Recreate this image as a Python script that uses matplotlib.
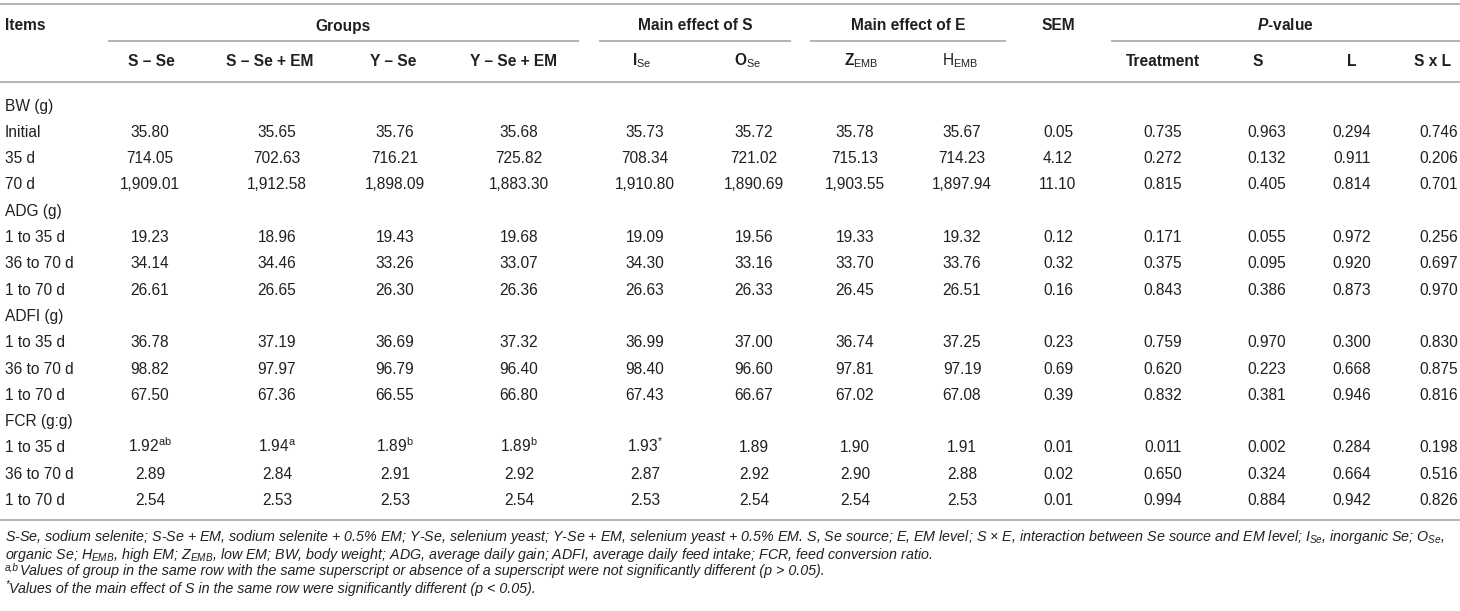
import matplotlib
matplotlib.use("Agg")
import matplotlib.pyplot as plt

plt.rcParams['font.family'] = ['Liberation Sans', 'DejaVu Sans']
plt.rcParams['mathtext.fontset'] = 'custom'
plt.rcParams['mathtext.rm'] = 'Liberation Sans'
plt.rcParams['mathtext.it'] = 'Liberation Sans:italic'
plt.rcParams['mathtext.bf'] = 'Liberation Sans:bold'
plt.rcParams['mathtext.bfit'] = 'Liberation Sans:italic:bold'
plt.rcParams['mathtext.sf'] = 'Liberation Sans'

# ---------------- data ----------------
sections = ["BW (g)", "ADG (g)", "ADFI (g)", "FCR (g:g)"]
periods = [["Initial", "35 d", "70 d"],
           ["1 to 35 d", "36 to 70 d", "1 to 70 d"],
           ["1 to 35 d", "36 to 70 d", "1 to 70 d"],
           ["1 to 35 d", "36 to 70 d", "1 to 70 d"]]

s_se    = [35.80, 714.05, 1909.01, 19.23, 34.14, 26.61, 36.78, 98.82, 67.50, 1.92, 2.89, 2.54]
s_se_em = [35.65, 702.63, 1912.58, 18.96, 34.46, 26.65, 37.19, 97.97, 67.36, 1.94, 2.84, 2.53]
y_se    = [35.76, 716.21, 1898.09, 19.43, 33.26, 26.30, 36.69, 96.79, 66.55, 1.89, 2.91, 2.53]
y_se_em = [35.68, 725.82, 1883.30, 19.68, 33.07, 26.36, 37.32, 96.40, 66.80, 1.89, 2.92, 2.54]
i_se    = [35.73, 708.34, 1910.80, 19.09, 34.30, 26.63, 36.99, 98.40, 67.43, 1.93, 2.87, 2.53]
o_se    = [35.72, 721.02, 1890.69, 19.56, 33.16, 26.33, 37.00, 96.60, 66.67, 1.89, 2.92, 2.54]
z_emb   = [35.78, 715.13, 1903.55, 19.33, 33.70, 26.45, 36.74, 97.81, 67.02, 1.90, 2.90, 2.54]
h_emb   = [35.67, 714.23, 1897.94, 19.32, 33.76, 26.51, 37.25, 97.19, 67.08, 1.91, 2.88, 2.53]
sem     = [0.05, 4.12, 11.10, 0.12, 0.32, 0.16, 0.23, 0.69, 0.39, 0.01, 0.02, 0.01]
p_treat = [0.735, 0.272, 0.815, 0.171, 0.375, 0.843, 0.759, 0.620, 0.832, 0.011, 0.650, 0.994]
p_s     = [0.963, 0.132, 0.405, 0.055, 0.095, 0.386, 0.970, 0.223, 0.381, 0.002, 0.324, 0.884]
p_l     = [0.294, 0.911, 0.814, 0.972, 0.920, 0.873, 0.300, 0.668, 0.946, 0.284, 0.664, 0.942]
p_sxl   = [0.746, 0.206, 0.701, 0.256, 0.697, 0.970, 0.830, 0.875, 0.816, 0.198, 0.516, 0.826]

# superscripts: (value row index, column index) -> mark
superscripts = {(9, 0): "ab", (9, 1): "a", (9, 2): "b", (9, 3): "b", (9, 4): "*"}

col_labels = [r"S – Se", r"S – Se + EM", r"Y – Se", r"Y – Se + EM",
              r"$\mathbf{I}_{\mathrm{Se}}$", r"$\mathbf{O}_{\mathrm{Se}}$",
              r"$\mathbf{Z}_{\mathrm{EMB}}$", r"$\mathrm{H}_{\mathrm{EMB}}$",
              "", "Treatment", "S", "L", "S x L"]
group_labels = ["Groups", "Main effect of S", "Main effect of E", r"$\mathbfit{P}$-value"]

# (superscript prefix, text)
footnotes = [
    ("", r"S-Se, sodium selenite; S-Se + EM, sodium selenite + 0.5% EM; Y-Se, selenium yeast; Y-Se + EM, selenium yeast + 0.5% EM. S, Se source; E, EM level; S × E, interaction between Se source and EM level; $I_{Se}$, inorganic Se; $O_{Se}$,"),
    ("", r"organic Se; $H_{EMB}$, high EM; $Z_{EMB}$, low EM; BW, body weight; ADG, average daily gain; ADFI, average daily feed intake; FCR, feed conversion ratio."),
    ("a,b", r"Values of group in the same row with the same superscript or absence of a superscript were not significantly different (p > 0.05)."),
    ("*", r"Values of the main effect of S in the same row were significantly different (p < 0.05)."),
]

columns = [s_se, s_se_em, y_se, y_se_em, i_se, o_se, z_emb, h_emb, sem,
           p_treat, p_s, p_l, p_sxl]
decimals = [2] * 9 + [3] * 4

# ---------------- layout ----------------
W, H = 1460, 611
fig = plt.figure(figsize=(W / 100, H / 100), dpi=100)
ax = fig.add_axes([0, 0, 1, 1])
ax.set_xlim(0, W)
ax.set_ylim(H, 0)
ax.axis("off")

TXT = "#231f20"
RULE = "#b3b3b3"
FS = 11.2
FFS = 10.3
BL = 5.5   # baseline offset below the row centre (px)

col_x = [150, 277, 395, 519, 645, 754, 855, 962, 1058, 1163, 1267, 1352, 1439]
head_x = [151, 270, 393, 514, 642, 748, 861, 960, 1058, 1163, 1258, 1352, 1432]
group_span = [(108, 579), (599, 791), (810, 1006), (1111, 1460)]

y_top, y_h1, y_ul, y_h2, y_hr = 4, 25, 41, 60, 82
y_first, dy = 105, 26.3
y_bot = 520
y_foot = [537, 554, 571, 588]


def put(x, y, s, ha="center", **kw):
    return ax.text(x, y + BL, s, ha=ha, va="baseline", color=TXT, **kw)


ax.hlines([y_top, y_hr, y_bot], 0, W, colors=RULE, lw=1.4)

put(5, y_h1, "Items", ha="left", fontsize=FS, fontweight="bold")
for (x0, x1), lab in zip(group_span, group_labels):
    put((x0 + x1) / 2, y_h1, lab, fontsize=FS, fontweight="bold")
    ax.hlines(y_ul, x0, x1, colors=RULE, lw=1.4)
put(head_x[8], y_h1, "SEM", fontsize=FS, fontweight="bold")
for x, lab in zip(head_x, col_labels):
    if lab:
        put(x, y_h2, lab, fontsize=FS, fontweight="bold")

row = 0
vi = 0
for sec, pers in zip(sections, periods):
    y = y_first + dy * row
    put(5, y, sec, ha="left", fontsize=FS)
    row += 1
    for per in pers:
        y = y_first + dy * row
        put(5, y, per, ha="left", fontsize=FS)
        for ci, (vals, dec) in enumerate(zip(columns, decimals)):
            s = f"{vals[vi]:,.{dec}f}"
            sup = superscripts.get((vi, ci))
            if sup:
                s = s + r"$^{\mathrm{" + sup + "}}$"
            put(col_x[ci], y, s, fontsize=FS)
        row += 1
        vi += 1

renderer = fig.canvas.get_renderer()
for y, (pre, t) in zip(y_foot, footnotes):
    x = 5
    if pre:
        st = ax.text(x, y - 0.5, pre, ha="left", va="baseline", fontsize=7.2,
                     style="italic", color=TXT)
        bb = st.get_window_extent(renderer)
        x = x + bb.width + 0.5
    ax.text(x, y + 4.5, t, ha="left", va="baseline", fontsize=FFS,
            style="italic", color=TXT)

fig.savefig("out.png", dpi=100)
